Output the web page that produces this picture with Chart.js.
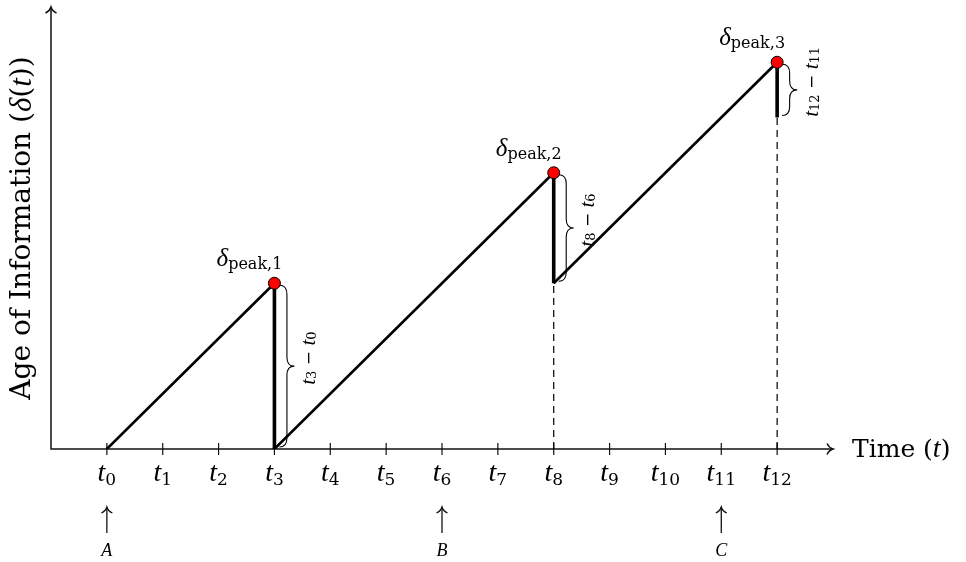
<!DOCTYPE html>
<html lang="en">
<head>
  <meta charset="UTF-8">
  <title>Age of Information</title>
  <script src="https://cdn.jsdelivr.net/npm/chart.js"></script>
  <style>
    html, body { margin: 0; padding: 0; background: #fff; }
    #wrap { width: 966px; height: 562px; }
  </style>
</head>
<body>
  <div id="wrap"><canvas id="aoiChart" width="966" height="562"></canvas></div>
  <script>
    // time instants t0 ... t12 on the horizontal axis
    const tickTimes = [0, 1, 2, 3, 4, 5, 6, 7, 8, 9, 10, 11, 12];
    const tickSubs = ['0', '1', '2', '3', '4', '5', '6', '7', '8', '9', '10', '11', '12'];

    // sawtooth of the age: rises with slope 1, drops at each update
    const ageTimes = [0, 3, 3, 8, 8, 12, 12];
    const ageValues = [0, 3, 0, 5, 3, 7, 6];

    // peaks just before each update
    const peakTimes = [3, 8, 12];
    const peakValues = [3, 5, 7];
    const peakSubs = ['peak,1', 'peak,2', 'peak,3'];

    // size of each drop, marked with a brace
    const dropTimes = [3, 8, 12];
    const dropLow = [0, 3, 6];
    const dropHigh = [3, 5, 7];
    const dropSubs = [['3', '0'], ['8', '6'], ['12', '11']];

    // dashed guides from the post-update age down to the axis
    const guideTimes = [8, 12];
    const guideValues = [3, 6];

    // packet generation instants
    const arrivalTimes = [0, 6, 11];
    const arrivalNames = ['A', 'B', 'C'];

    const ROMAN = '"DejaVu Serif", "Liberation Serif", serif';
    const ITALIC = '"Liberation Serif", serif';

    // draws a row of text pieces (main glyphs + subscripts) one after another
    function drawRuns(ctx, runs, x, y, align) {
      let total = 0;
      runs.forEach(r => { ctx.font = r.font; r.w = ctx.measureText(r.text).width; total += r.w; });
      let cx = align === 'center' ? x - total / 2 : x;
      runs.forEach(r => {
        ctx.font = r.font;
        ctx.fillText(r.text, cx, y + (r.dy || 0));
        cx += r.w;
      });
    }

    function arrowHead(ctx, x, y, angle) {
      ctx.save();
      ctx.translate(x, y);
      ctx.rotate(angle);
      ctx.beginPath();
      ctx.moveTo(-6, -5.5);
      ctx.bezierCurveTo(-4.5, -2.5, -2, -0.6, 0, 0);
      ctx.bezierCurveTo(-2, 0.6, -4.5, 2.5, -6, 5.5);
      ctx.stroke();
      ctx.restore();
    }

    // vertical curly brace, tip pointing right
    function brace(ctx, x0, yTop, yBot, w) {
      const ym = (yTop + yBot) / 2;
      const r = Math.min(9, (yBot - yTop) / 4);
      const xs = x0 + w / 2;
      ctx.beginPath();
      ctx.moveTo(x0, yTop);
      ctx.quadraticCurveTo(xs, yTop, xs, yTop + r);
      ctx.lineTo(xs, ym - r);
      ctx.quadraticCurveTo(xs, ym, x0 + w, ym);
      ctx.quadraticCurveTo(xs, ym, xs, ym + r);
      ctx.lineTo(xs, yBot - r);
      ctx.quadraticCurveTo(xs, yBot, x0, yBot);
      ctx.stroke();
    }

    const aoiDecor = {
      id: 'aoiDecor',
      beforeDatasetsDraw(chart) {
        const ctx = chart.ctx;
        const xs = chart.scales.x, ys = chart.scales.y;
        const x0 = xs.getPixelForValue(xs.min);
        const xEnd = xs.getPixelForValue(xs.max);
        const y0 = ys.getPixelForValue(0);
        const yEnd = ys.getPixelForValue(ys.max);

        ctx.save();
        ctx.strokeStyle = '#111';
        ctx.fillStyle = '#000';
        ctx.lineWidth = 1.5;

        // axes with arrows
        ctx.beginPath();
        ctx.moveTo(x0, yEnd);
        ctx.lineTo(x0, y0);
        ctx.lineTo(xEnd, y0);
        ctx.stroke();
        arrowHead(ctx, xEnd, y0, 0);
        arrowHead(ctx, x0, yEnd, -Math.PI / 2);

        // tick marks and t_i labels
        ctx.lineWidth = 1.2;
        ctx.textBaseline = 'alphabetic';
        tickTimes.forEach((t, i) => {
          const px = xs.getPixelForValue(t);
          ctx.beginPath();
          ctx.moveTo(px, y0 - 6);
          ctx.lineTo(px, y0 + 6);
          ctx.stroke();
          drawRuns(ctx, [
            { text: 't', font: 'italic 28px ' + ITALIC },
            { text: tickSubs[i], font: '17px ' + ROMAN, dy: 4 }
          ], px, y0 + 32, 'center');
        });

        // horizontal axis title
        drawRuns(ctx, [
          { text: 'Time (', font: '25px ' + ROMAN },
          { text: 't', font: 'italic 28px ' + ITALIC },
          { text: ')', font: '25px ' + ROMAN }
        ], xEnd + 19, y0 + 8, 'left');

        // vertical axis title
        ctx.save();
        ctx.translate(x0 - 28, (y0 + yEnd) / 2);
        ctx.rotate(-Math.PI / 2);
        ctx.textBaseline = 'middle';
        drawRuns(ctx, [
          { text: 'Age of Information (', font: '28px ' + ROMAN },
          { text: 'δ', font: 'italic 31px ' + ITALIC },
          { text: '(', font: '28px ' + ROMAN },
          { text: 't', font: 'italic 31px ' + ITALIC },
          { text: '))', font: '28px ' + ROMAN }
        ], 0, 0, 'center');
        ctx.restore();

        // generation instants below the axis
        ctx.lineWidth = 1.3;
        arrivalTimes.forEach((t, i) => {
          const px = xs.getPixelForValue(t);
          ctx.beginPath();
          ctx.moveTo(px, y0 + 84);
          ctx.lineTo(px, y0 + 58);
          ctx.stroke();
          arrowHead(ctx, px, y0 + 58, -Math.PI / 2);
          ctx.font = 'italic 18px ' + ITALIC;
          ctx.textAlign = 'center';
          ctx.fillText(arrivalNames[i], px, y0 + 107);
          ctx.textAlign = 'left';
        });
        ctx.restore();
      },
      afterDatasetsDraw(chart) {
        const ctx = chart.ctx;
        const xs = chart.scales.x, ys = chart.scales.y;
        ctx.save();
        ctx.strokeStyle = '#000';
        ctx.fillStyle = '#000';
        ctx.textAlign = 'left';

        // braces and the drop sizes
        dropTimes.forEach((t, i) => {
          const px = xs.getPixelForValue(t);
          const yTop = ys.getPixelForValue(dropHigh[i]);
          const yBot = ys.getPixelForValue(dropLow[i]);
          ctx.lineWidth = 1.1;
          brace(ctx, px + 5, yTop + 2, yBot - 2, 15);
          ctx.save();
          ctx.translate(px + 35, (yTop + yBot) / 2 - 8);
          ctx.rotate(-Math.PI / 2);
          ctx.textBaseline = 'middle';
          drawRuns(ctx, [
            { text: 't', font: 'italic 21px ' + ITALIC },
            { text: dropSubs[i][0], font: '13px ' + ROMAN, dy: 3 },
            { text: ' − ', font: '17px ' + ROMAN },
            { text: 't', font: 'italic 21px ' + ITALIC },
            { text: dropSubs[i][1], font: '13px ' + ROMAN, dy: 3 }
          ], 0, 0, 'center');
          ctx.restore();
        });

        // peak labels
        ctx.textBaseline = 'alphabetic';
        peakTimes.forEach((t, i) => {
          const px = xs.getPixelForValue(t);
          const py = ys.getPixelForValue(peakValues[i]);
          drawRuns(ctx, [
            { text: 'δ', font: 'italic 25px ' + ITALIC },
            { text: peakSubs[i], font: '16px ' + ROMAN, dy: 3 }
          ], px - 25, py - 17, 'center');
        });
        ctx.restore();
      }
    };

    const sawtooth = ageTimes.map((t, i) => ({ x: t, y: ageValues[i] }));
    const peaks = peakTimes.map((t, i) => ({ x: t, y: peakValues[i] }));
    const guides = [];
    guideTimes.forEach((t, i) => {
      guides.push({ x: t, y: 0 }, { x: t, y: guideValues[i] }, { x: t, y: null });
    });

    new Chart(document.getElementById('aoiChart'), {
      type: 'line',
      data: {
        datasets: [
          {
            label: 'Peaks',
            data: peaks,
            showLine: false,
            pointRadius: 6,
            pointBackgroundColor: '#ff0000',
            pointBorderColor: '#000',
            pointBorderWidth: 1,
            order: 0
          },
          {
            label: 'Age',
            data: sawtooth,
            borderColor: '#000',
            borderWidth: 2.6,
            pointRadius: 0,
            tension: 0,
            segment: {
              // drops are drawn heavier than the linear growth
              borderWidth: c => (c.p0.parsed.x === c.p1.parsed.x ? 3.6 : 2.6)
            },
            order: 1
          },
          {
            label: 'Guides',
            data: guides,
            borderColor: '#000',
            borderWidth: 1.2,
            borderDash: [7, 5],
            pointRadius: 0,
            spanGaps: false,
            order: 2
          }
        ]
      },
      options: {
        responsive: false,
        animation: false,
        devicePixelRatio: 1,
        layout: { padding: { left: 51, right: 133, top: 4, bottom: 113 } },
        scales: {
          x: { type: 'linear', min: -1, max: 13, display: false },
          y: { type: 'linear', min: 0, max: 8, display: false }
        },
        plugins: {
          legend: { display: false },
          tooltip: { enabled: false }
        }
      },
      plugins: [aoiDecor]
    });
  </script>
</body>
</html>
